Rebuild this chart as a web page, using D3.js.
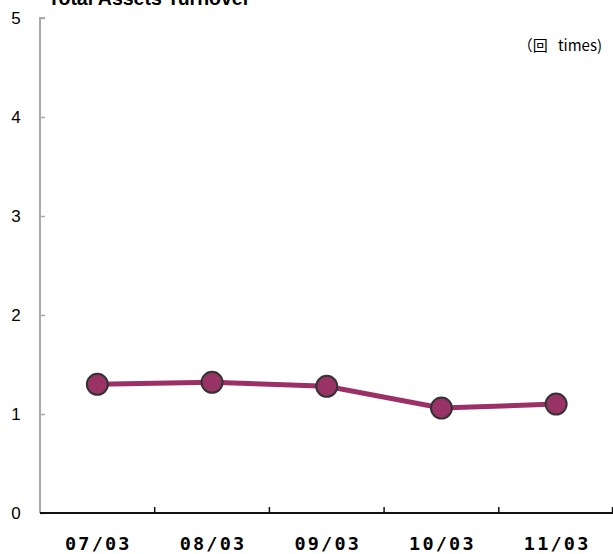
<!DOCTYPE html>
<html>
<head>
<meta charset="utf-8">
<script src="https://cdn.jsdelivr.net/npm/d3@7"></script>
<style>
  body { margin: 0; background: #fff; }
</style>
</head>
<body>
<div id="chart"></div>
<script>
const years = ['07/03', '08/03', '09/03', '10/03', '11/03'];
const turnover = [1.30, 1.32, 1.28, 1.06, 1.10];
const yTicks = [0, 1, 2, 3, 4, 5];

const width = 613;
const height = 554;
const margin = { top: 18, right: 0, bottom: 41, left: 40 };

const svg = d3.select('#chart')
  .append('svg')
  .attr('width', width)
  .attr('height', height)
  .style('display', 'block');

const x = d3.scaleBand()
  .domain(years)
  .range([margin.left, 613.5]);

const y = d3.scaleLinear()
  .domain([0, 5])
  .range([height - margin.bottom, margin.top]);

// title, cut off at the top like the original
svg.append('text')
  .attr('x', 48)
  .attr('y', 5)
  .attr('font-family', 'Arial, "Liberation Sans", sans-serif')
  .attr('font-size', 19.5)
  .attr('font-weight', 'bold')
  .text('Total Assets Turnover');

// unit label
svg.append('text')
  .attr('x', 602)
  .attr('y', 51)
  .attr('text-anchor', 'end')
  .attr('font-family', '"Noto Sans CJK JP", sans-serif')
  .attr('font-size', 15)
  .style('white-space', 'pre')
  .text('（回   times)');

// y axis
const yAxis = svg.append('g')
  .attr('transform', `translate(${margin.left},0)`)
  .call(d3.axisRight(y).tickValues(yTicks).tickSize(5).tickFormat(''));
yAxis.select('.domain').attr('stroke', '#aaa').attr('stroke-width', 2).attr('d', `M5,${y(5)}H0V${y(0)}`);
yAxis.selectAll('.tick line').attr('stroke', '#aaa').attr('stroke-width', 1.5);

svg.append('g')
  .selectAll('text')
  .data(yTicks)
  .join('text')
  .attr('x', 16)
  .attr('y', d => y(d) + 6)
  .attr('text-anchor', 'middle')
  .attr('font-family', '"Liberation Sans", Arial, sans-serif')
  .attr('font-size', 17)
  .text(d => d);

// x axis
const xAxis = svg.append('g')
  .attr('transform', `translate(0,${y(0)})`)
  .call(d3.axisTop(x).tickValues(years.slice(1)).tickSize(6).tickFormat('').offset(0));
xAxis.selectAll('.tick').attr('transform', d => `translate(${x(d)},0)`);
xAxis.select('.domain').attr('stroke', '#111').attr('stroke-width', 2).attr('d', `M${margin.left},0H613`);
xAxis.selectAll('.tick line').attr('stroke', '#111').attr('stroke-width', 1.5);
// last tick at the right end
xAxis.append('line')
  .attr('x1', x.range()[1] - 1).attr('x2', x.range()[1] - 1)
  .attr('y1', 0).attr('y2', -6)
  .attr('stroke', '#111').attr('stroke-width', 1.5);

svg.append('g')
  .selectAll('text')
  .data(years)
  .join('text')
  .attr('x', d => x(d) + x.bandwidth() / 2 + 1)
  .attr('y', 550)
  .attr('text-anchor', 'middle')
  .attr('font-family', '"DejaVu Sans Mono", monospace')
  .attr('font-size', 18.5)
  .attr('font-weight', 'bold')
  .attr('letter-spacing', 2.2)
  .text(d => d);

// line
const line = d3.line()
  .x((d, i) => x(years[i]) + x.bandwidth() / 2)
  .y(d => y(d));

svg.append('path')
  .datum(turnover)
  .attr('fill', 'none')
  .attr('stroke', '#9b2f66')
  .attr('stroke-width', 5)
  .attr('d', line);

svg.append('g')
  .selectAll('circle')
  .data(turnover)
  .join('circle')
  .attr('cx', (d, i) => x(years[i]) + x.bandwidth() / 2)
  .attr('cy', d => y(d))
  .attr('r', 10.5)
  .attr('fill', '#993366')
  .attr('stroke', '#333')
  .attr('stroke-width', 2);
</script>
</body>
</html>
